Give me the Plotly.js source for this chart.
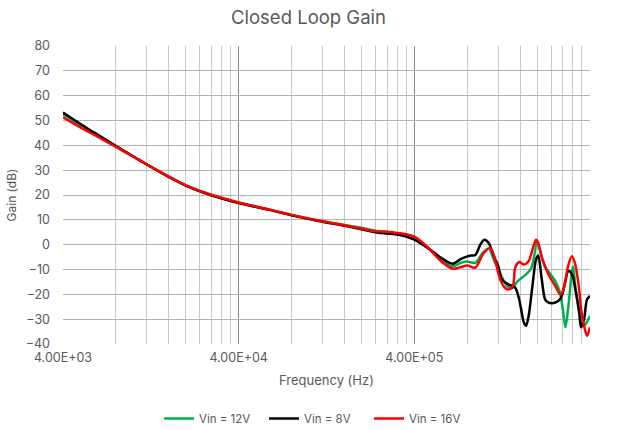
<!DOCTYPE html>
<html>
<head>
<meta charset="utf-8">
<script src="https://cdn.plot.ly/plotly-3.0.1.min.js"></script>
<style>html,body{margin:0;padding:0;background:#fff;}#chart{width:617px;height:430px;}</style>
</head>
<body>
<div id="chart"></div>
<script>
// Frequencies (Hz) and gains (dB)
const freqLow = [4000, 5000, 6000, 8000, 10000, 12000, 16000, 20000, 28000, 40000, 60000, 80000, 120000, 160000, 200000, 240000, 280000, 320000, 360000, 400000];
const gain8Low  = [53.2, 48.7, 45.2, 39.7, 35.6, 32.3, 27.3, 23.8, 19.9, 16.8, 14.0, 11.8, 9.2, 7.6, 6.2, 5.0, 4.5, 4.1, 3.3, 2.0];
const gain12Low = [52.5, 48.3, 45.0, 39.7, 35.6, 32.3, 27.3, 23.8, 19.9, 16.9, 14.1, 12.0, 9.5, 7.9, 6.8, 5.6, 5.1, 4.6, 3.9, 2.6];
const gain16Low = [51.3, 47.3, 44.3, 39.4, 35.5, 32.3, 27.4, 23.9, 20.1, 17.0, 14.1, 12.0, 9.4, 7.8, 6.5, 5.4, 5.2, 4.7, 4.2, 3.2];

const freq8High = [476000, 568000, 661000, 738000, 840000, 890000, 950000, 1000000, 1060000, 1140000, 1200000, 1260000, 1370000, 1500000, 1580000, 1680000, 1730000, 1790000, 1880000, 1970000, 2030000, 2120000, 2220000, 2320000, 2540000, 2700000, 2800000, 2900000, 3000000, 3100000, 3200000, 3300000, 3470000, 3560000, 3700000, 3850000, 4000000];
const gain8High = [-1.3, -5.3, -7.7, -5.7, -4.4, -4.2, 0.0, 2.0, 0.7, -5.0, -8.5, -14.0, -16.0, -17.3, -22.0, -31.3, -32.7, -28.7, -16.7, -6.0, -4.4, -13.3, -22.0, -23.3, -23.3, -22.0, -19.3, -14.7, -10.7, -11.0, -13.0, -18.0, -27.3, -33.3, -30.0, -22.0, -20.7];

const freq12High = [476000, 568000, 661000, 738000, 800000, 890000, 980000, 1060000, 1140000, 1240000, 1350000, 1430000, 1550000, 1730000, 1850000, 1920000, 2000000, 2120000, 2220000, 2350000, 2540000, 2700000, 2800000, 2900000, 3000000, 3200000, 3300000, 3470000, 3560000, 3700000, 3850000, 4000000];
const gain12High = [-1.0, -6.0, -8.7, -7.3, -6.8, -7.3, -3.3, -1.5, -6.5, -12.0, -16.7, -17.7, -14.7, -12.0, -9.5, -5.0, 1.3, -4.7, -9.0, -11.3, -14.7, -19.3, -26.0, -33.3, -26.0, -8.7, -16.7, -26.0, -30.0, -32.7, -31.0, -28.7];

const freq16High = [476000, 568000, 661000, 738000, 800000, 890000, 980000, 1080000, 1140000, 1240000, 1350000, 1450000, 1500000, 1580000, 1680000, 1790000, 1880000, 1970000, 2030000, 2120000, 2220000, 2320000, 2540000, 2700000, 2800000, 2900000, 3000000, 3150000, 3300000, 3470000, 3560000, 3700000, 3850000, 4000000];
const gain16High = [-1.0, -6.7, -9.7, -9.0, -8.4, -9.3, -4.0, -1.3, -4.7, -14.5, -18.0, -17.0, -9.3, -7.0, -8.0, -6.7, -2.0, 2.0, 0.7, -4.7, -8.7, -12.0, -16.7, -20.0, -18.7, -14.0, -8.7, -4.7, -8.0, -18.0, -26.0, -32.7, -36.7, -33.3];

const seriesNames = ['Vin = 12V', 'Vin = 8V', 'Vin = 16V'];
const seriesColors = ['#00B050', '#000000', '#FF0000'];

const xTickVals = [4000, 40000, 400000, 4000000];
const xTickText = ['4.00E+03', '4.00E+04', '4.00E+05', '4.00E+06'];
const xMinorVals = [];
for (const d of [4000, 40000, 400000]) { for (let k = 2; k <= 9; k++) xMinorVals.push(d * k); }

const xs = [freqLow.concat(freq12High), freqLow.concat(freq8High), freqLow.concat(freq16High)];
const ys = [gain12Low.concat(gain12High), gain8Low.concat(gain8High), gain16Low.concat(gain16High)];

const traces = xs.map((x, i) => ({
  x: x, y: ys[i], name: seriesNames[i], type: 'scatter', mode: 'lines',
  line: {color: seriesColors[i], width: 2.5, shape: 'spline', smoothing: 0.8}
}));

const font = 'Inter, "Open Sans", sans-serif';
const layout = {
  width: 617, height: 430,
  margin: {l: 63, r: 27, t: 46, b: 86, autoexpand: false},
  paper_bgcolor: '#ffffff', plot_bgcolor: '#ffffff',
  font: {family: font, color: '#595959', size: 11},
  title: {text: 'Closed Loop Gain', font: {family: font, size: 18.5, color: '#595959'}, x: 0.5, xanchor: 'center', y: 0.96, yanchor: 'middle'},
  showlegend: true,
  legend: {orientation: 'h', xref: 'container', x: 0.513, xanchor: 'center', y: -0.25, yanchor: 'middle',
           entrywidth: 60, entrywidthmode: 'pixels',
           font: {size: 11.5, color: '#595959'}, bgcolor: 'rgba(0,0,0,0)'},
  xaxis: {
    type: 'log', range: [Math.log10(4000), Math.log10(4000000)],
    tickmode: 'array', tickvals: xTickVals, ticktext: xTickText,
    showgrid: true, gridcolor: '#8c8c8c', gridwidth: 1,
    minor: {tickmode: 'array', tickvals: xMinorVals, showgrid: true, gridcolor: '#c8c8c8', gridwidth: 1, ticks: ''},
    zeroline: false, showline: false, ticks: '', automargin: false,
    ticklabelstandoff: 4,
    tickfont: {size: 12.5, color: '#595959'},
    title: {text: 'Frequency (Hz)', font: {size: 13, color: '#595959'}, standoff: 12}
  },
  yaxis: {
    range: [-40, 80], dtick: 10, tick0: 0,
    showgrid: true, gridcolor: '#b4b4b4', gridwidth: 1,
    zeroline: false, showline: false, ticks: '', automargin: false,
    tickfont: {size: 12.5, color: '#595959'},
    ticklabelstandoff: 12,
    title: {text: 'Gain (dB)', font: {size: 12, color: '#595959'}, standoff: 6}
  }
};

Plotly.newPlot('chart', traces, layout, {displayModeBar: false, staticPlot: true});
</script>
</body>
</html>
